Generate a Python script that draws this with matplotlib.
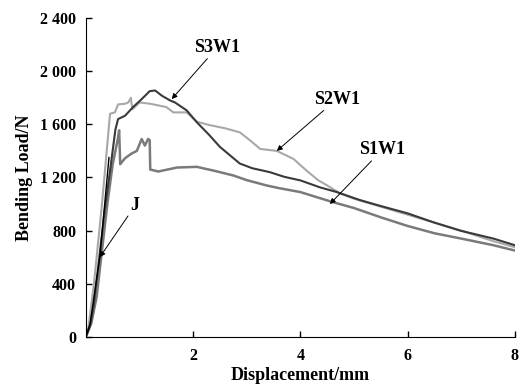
import numpy as np
import matplotlib.pyplot as plt

plt.rcParams['font.family'] = 'Liberation Serif'
plt.rcParams['font.weight'] = 'bold'

# displacement (mm) / bending load (N)
s3w1_x = [0, 0.08, 0.15, 0.25, 0.35, 0.45, 0.55, 0.6, 0.73, 0.88, 1.04, 1.19, 1.29, 1.42, 1.57, 1.66,
          1.88, 2.07, 2.3, 2.5, 2.87, 3.1, 3.43, 3.7, 4.0, 4.37, 4.68, 5.11, 5.5, 6.0, 6.5, 6.98, 7.6, 8.0]
s3w1_y = [0, 90, 250, 600, 950, 1250, 1560, 1640, 1665, 1730, 1790, 1850, 1855, 1815, 1780, 1765,
          1705, 1615, 1520, 1430, 1305, 1270, 1240, 1205, 1178, 1125, 1090, 1030, 985, 930, 860, 800, 740, 690]

s2w1_x = [0, 0.05, 0.15, 0.3, 0.45, 0.54, 0.6, 0.73, 0.79, 0.84, 0.85, 0.87, 1.0, 1.2, 1.5, 1.63,
          1.88, 2.07, 2.3, 2.6, 2.87, 3.06, 3.25, 3.56, 3.87, 4.12, 4.33, 4.5, 4.74, 5.0, 5.5, 6.0,
          6.5, 7.0, 7.6, 8.0]
s2w1_y = [0, 80, 400, 1000, 1680, 1690, 1750, 1755, 1765, 1800, 1760, 1715, 1765, 1755, 1730, 1690,
          1690, 1620, 1595, 1570, 1540, 1480, 1415, 1400, 1340, 1250, 1180, 1140, 1080, 1040, 980, 920,
          860, 800, 720, 675]

s1w1_x = [0, 0.1, 0.2, 0.3, 0.4, 0.5, 0.6, 0.62, 0.64, 0.73, 0.85, 0.95, 1.04, 1.1, 1.16, 1.19, 1.2,
          1.35, 1.7, 2.07, 2.4, 2.75, 3.0, 3.37, 3.6, 4.0, 4.6, 5.0, 5.5, 6.0, 6.5, 7.0, 7.6, 8.0]
s1w1_y = [0, 100, 300, 650, 1000, 1300, 1500, 1555, 1300, 1345, 1380, 1400, 1490, 1440, 1490, 1480, 1260,
          1245, 1275, 1280, 1250, 1215, 1180, 1140, 1120, 1090, 1015, 970, 900, 835, 780, 740, 690, 650]

j_x = [0, 0.08, 0.15, 0.26, 0.43]
j_y = [0, 100, 300, 600, 1350]

xticks = [2, 4, 6, 8]
yticks = [0, 400, 800, 1200, 1600, 2000, 2400]
ytick_labels = ['0', '400', '800', '1 200', '1 600', '2 000', '2 400']

fig = plt.figure(figsize=(5.27, 3.85), dpi=100)
ax = fig.add_axes([0.163, 0.125, 0.814, 0.828])

ax.plot(s2w1_x, s2w1_y, color='#a8a8a8', lw=1.5)
ax.plot(s1w1_x, s1w1_y, color='#7a7a7a', lw=1.8)
ax.plot(s3w1_x, s3w1_y, color='#3a3a3a', lw=1.5)
ax.plot(j_x, j_y, color='black', lw=1.0)

arrow = dict(arrowstyle='-|>', color='black', lw=0.7, mutation_scale=8, shrinkA=0, shrinkB=0)
ax.annotate('S3W1', xy=(1.6, 1790), xytext=(2.45, 2180), fontsize=13, ha='center', va='center',
            arrowprops=arrow)
ax.annotate('S2W1', xy=(3.56, 1400), xytext=(4.68, 1790), fontsize=13, ha='center', va='center',
            arrowprops=arrow)
ax.annotate('S1W1', xy=(4.55, 1000), xytext=(5.53, 1410), fontsize=13, ha='center', va='center',
            arrowprops=arrow)
ax.annotate('J', xy=(0.26, 600), xytext=(0.92, 990), fontsize=13, ha='center', va='center',
            arrowprops=arrow)

ax.set_xlim(0, 8)
ax.set_ylim(0, 2400)
ax.set_xticks(xticks)
ax.set_yticks(yticks)
ax.set_yticklabels(ytick_labels)
ax.tick_params(direction='in', length=4, width=1, labelsize=11.5)
ax.tick_params(axis='x', pad=8)
ax.tick_params(axis='y', pad=7)
ax.spines['top'].set_visible(False)
ax.spines['right'].set_visible(False)
ax.set_xlabel('Displacement/mm', fontsize=13, fontweight='bold', labelpad=2)
ax.set_ylabel('Bending Load/N', fontsize=13, fontweight='bold', labelpad=5)

fig.savefig('out.png', dpi=100)
